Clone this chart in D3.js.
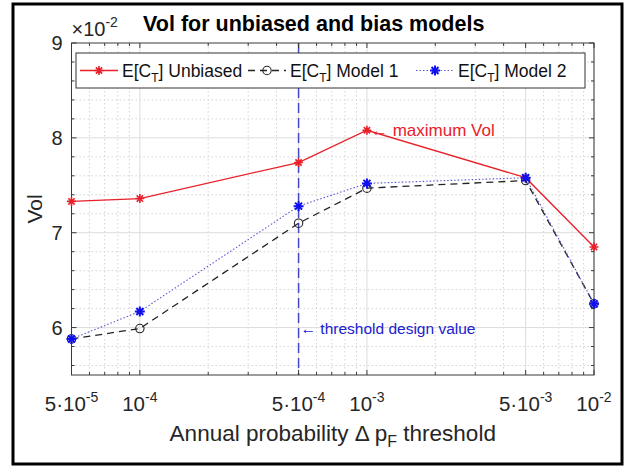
<!DOCTYPE html>
<meta charset="utf-8">
<head>
  <title>Vol for unbiased and bias models</title>
  <style>
    body { margin: 0; background: #fff; }
    text { font-family: "Liberation Sans", Arial, sans-serif; }
  </style>
</head>

<body>
  <script src="https://d3js.org/d3.v7.min.js"></script>

  <script>

// annual probability thresholds (x) and Vol values in units of 1e-2 (y)
const probs    = [5e-5, 1e-4, 5e-4, 1e-3, 5e-3, 1e-2];
const unbiased = [7.33, 7.36, 7.74, 8.08, 7.58, 6.85];
const model1   = [5.88, 5.99, 7.10, 7.47, 7.55, 6.25];
const model2   = [5.88, 6.17, 7.28, 7.52, 7.58, 6.25];

const xTickLabels = [["5·10", "-5"], ["10", "-4"], ["5·10", "-4"], ["10", "-3"], ["5·10", "-3"], ["10", "-2"]];
const yTicks = [6, 7, 8, 9];
const legendNames = ["Unbiased", "Model 1", "Model 2"];
const thresholdProb = 5e-4;
const maxIndex = 3;

const totalWidth = 627, totalHeight = 466,
      margin = {top: 43, right: 33, bottom: 91, left: 71.5},
      width = totalWidth - margin.left - margin.right,
      height = totalHeight - margin.top - margin.bottom;

const svg = d3.select("body")
    .append("svg")
    .attr("width", totalWidth)
    .attr("height", totalHeight);

// outer frame
svg.append("rect")
  .attr("x", 13).attr("y", 4)
  .attr("width", 609).attr("height", 460)
  .style("fill", "none")
  .style("stroke", "#000")
  .style("stroke-width", 3);

const g = svg.append("g")
    .attr("transform", "translate(" + margin.left + "," + margin.top + ")");

const x = d3.scaleLog()
    .domain([5e-5, 1e-2])
    .range([0, width]);

const y = d3.scaleLinear()
    .domain([5.5, 9])
    .range([height, 0]);

// minor positions
const xMinor = [];
[-5, -4, -3].forEach(e => {
  for (let k = 1; k <= 9; k++) {
    const v = k * Math.pow(10, e);
    if (v > 5e-5 * 1.0001 && v < 1e-2 * 0.9999 && !probs.some(p => Math.abs(p - v) / v < 1e-6)) xMinor.push(v);
  }
});
const yMinor = d3.range(5.6, 9, 0.2).filter(v => Math.abs(v - Math.round(v)) > 0.01);

// minor grid
const grid = g.append("g");
grid.selectAll(".xminor").data(xMinor).enter().append("line")
  .attr("x1", d => x(d)).attr("x2", d => x(d))
  .attr("y1", 0).attr("y2", height)
  .style("stroke", "#d4d4d4").style("stroke-dasharray", "1.5,2.5");
grid.selectAll(".yminor").data(yMinor).enter().append("line")
  .attr("y1", d => y(d)).attr("y2", d => y(d))
  .attr("x1", 0).attr("x2", width)
  .style("stroke", "#d4d4d4").style("stroke-dasharray", "1.5,2.5");

// major grid
grid.selectAll(".xmajor").data(probs).enter().append("line")
  .attr("x1", d => x(d)).attr("x2", d => x(d))
  .attr("y1", 0).attr("y2", height)
  .style("stroke", "#dcdcdc");
grid.selectAll(".ymajor").data(yTicks.slice(0, 3)).enter().append("line")
  .attr("y1", d => y(d)).attr("y2", d => y(d))
  .attr("x1", 0).attr("x2", width)
  .style("stroke", "#dcdcdc");

// threshold line
g.append("line")
  .attr("x1", x(thresholdProb)).attr("x2", x(thresholdProb))
  .attr("y1", 0).attr("y2", height)
  .style("stroke", "#4646c8")
  .style("stroke-width", 1.5)
  .style("stroke-dasharray", "10,5");

// axis box + ticks (inward on all sides)
const axisColor = "#3a3a3a";
g.append("rect")
  .attr("width", width).attr("height", height)
  .style("fill", "none").style("stroke", axisColor).style("stroke-width", 1);

const ticks = g.append("g").style("stroke", axisColor);
[[probs, 5], [xMinor, 3]].forEach(([vals, len]) => {
  ticks.selectAll(null).data(vals).enter().append("line")
    .attr("x1", d => x(d)).attr("x2", d => x(d)).attr("y1", height).attr("y2", height - len);
  ticks.selectAll(null).data(vals).enter().append("line")
    .attr("x1", d => x(d)).attr("x2", d => x(d)).attr("y1", 0).attr("y2", len);
});
[[yTicks, 5], [yMinor, 3]].forEach(([vals, len]) => {
  ticks.selectAll(null).data(vals).enter().append("line")
    .attr("y1", d => y(d)).attr("y2", d => y(d)).attr("x1", 0).attr("x2", len);
  ticks.selectAll(null).data(vals).enter().append("line")
    .attr("y1", d => y(d)).attr("y2", d => y(d)).attr("x1", width).attr("x2", width - len);
});

// x tick labels
const xl = g.append("g").selectAll("text").data(probs).enter().append("text")
  .attr("x", d => x(d))
  .attr("y", height + 36)
  .attr("text-anchor", "middle")
  .style("font-size", "20.5px")
  .style("fill", "#262626");
xl.append("tspan").text((d, i) => xTickLabels[i][0]);
xl.append("tspan").attr("dy", -9).style("font-size", "14px").text((d, i) => xTickLabels[i][1]);

// y tick labels
g.append("g").selectAll("text").data(yTicks).enter().append("text")
  .attr("x", -9)
  .attr("y", d => y(d) + 7)
  .attr("text-anchor", "end")
  .style("font-size", "20px")
  .style("fill", "#262626")
  .text(d => d);

// exponent
const ex = g.append("text").attr("x", 0).attr("y", -7)
  .style("font-size", "20px").style("fill", "#262626");
ex.append("tspan").text("×10");
ex.append("tspan").attr("dy", -9).style("font-size", "14px").text("-2");

// title
g.append("text")
  .attr("x", width / 2 - 19).attr("y", -12)
  .attr("text-anchor", "middle")
  .style("font-size", "21.5px").style("font-weight", "bold")
  .text("Vol for unbiased and bias models");

// axis labels
g.append("text")
  .attr("transform", "translate(-30," + (height / 2) + ") rotate(-90)")
  .attr("text-anchor", "middle")
  .style("font-size", "21px").style("fill", "#262626")
  .text("Vol");

const xlab = g.append("text")
  .attr("x", width / 2).attr("y", height + 66)
  .attr("text-anchor", "middle")
  .style("font-size", "22.5px").style("fill", "#262626");
xlab.append("tspan").text("Annual probability Δ p");
xlab.append("tspan").attr("dy", 6).style("font-size", "16px").text("F");
xlab.append("tspan").attr("dy", -6).text(" threshold");

// series
function asterisk(r) {
  const a = r * 0.7;
  return "M" + (-r) + ",0L" + r + ",0M0," + (-r) + "L0," + r +
         "M" + (-a) + "," + (-a) + "L" + a + "," + a + "M" + (-a) + "," + a + "L" + a + "," + (-a);
}

const series = [
  {name: legendNames[0], values: unbiased, color: "#e8202a", dash: null, width: 1.3, marker: "star", mcolor: "#e8202a", r: 4.5, mw: 1.6},
  {name: legendNames[1], values: model1, color: "#222", dash: "7,5", width: 1.3, marker: "circle", mcolor: "#222", r: 4.2, mw: 1.1},
  {name: legendNames[2], values: model2, color: "#5a5ad0", dash: "1.5,2", width: 1.1, marker: "star", mcolor: "#1010ee", r: 5, mw: 2}
];

const line = d3.line()
  .x((d, i) => x(probs[i]))
  .y(d => y(d));

function drawMarker(sel, s) {
  if (s.marker === "star") {
    sel.append("path").attr("d", asterisk(s.r))
      .style("stroke", s.mcolor).style("stroke-width", s.mw).style("fill", "none");
  } else {
    sel.append("circle").attr("r", s.r)
      .style("stroke", s.mcolor).style("stroke-width", s.mw).style("fill", "none");
  }
}

series.forEach(s => {
  g.append("path")
    .attr("d", line(s.values))
    .style("fill", "none")
    .style("stroke", s.color)
    .style("stroke-width", s.width)
    .style("stroke-dasharray", s.dash);
  g.append("g").selectAll("g").data(s.values).enter().append("g")
    .attr("transform", (d, i) => "translate(" + x(probs[i]) + "," + y(d) + ")")
    .each(function() { drawMarker(d3.select(this), s); });
});

// annotations
g.append("text")
  .attr("x", x(probs[maxIndex]) + 4).attr("y", y(unbiased[maxIndex]) + 6)
  .style("font-size", "17px").style("fill", "#e8202a")
  .text("← maximum Vol");

g.append("text")
  .attr("x", x(thresholdProb) + 2).attr("y", y(6) + 6)
  .style("font-size", "15.5px").style("fill", "#2020d0")
  .text("← threshold design value");

// legend: three equal-width columns
const legendW = 509, legendH = 35, colW = 168;
const legend = g.append("g").attr("transform", "translate(4.5,10)");
legend.append("rect")
  .attr("width", legendW).attr("height", legendH)
  .style("fill", "#fff").style("stroke", "#333").style("stroke-width", 1);

series.forEach((s, i) => {
  const item = legend.append("g").attr("transform", "translate(" + (4 + i * colW) + "," + (legendH / 2) + ")");
  item.append("line").attr("x1", 0).attr("x2", 38)
    .style("stroke", s.color).style("stroke-width", s.width).style("stroke-dasharray", s.dash);
  drawMarker(item.append("g").attr("transform", "translate(19,0)"), s);
  const t = item.append("text").attr("x", 42).attr("y", 6)
    .style("font-size", "17.5px").style("fill", "#111");
  t.append("tspan").text("E[C");
  t.append("tspan").attr("dy", 5).style("font-size", "12px").text("T");
  t.append("tspan").attr("dy", -5).text("] " + s.name);
});

  </script>
</body>
</html>
